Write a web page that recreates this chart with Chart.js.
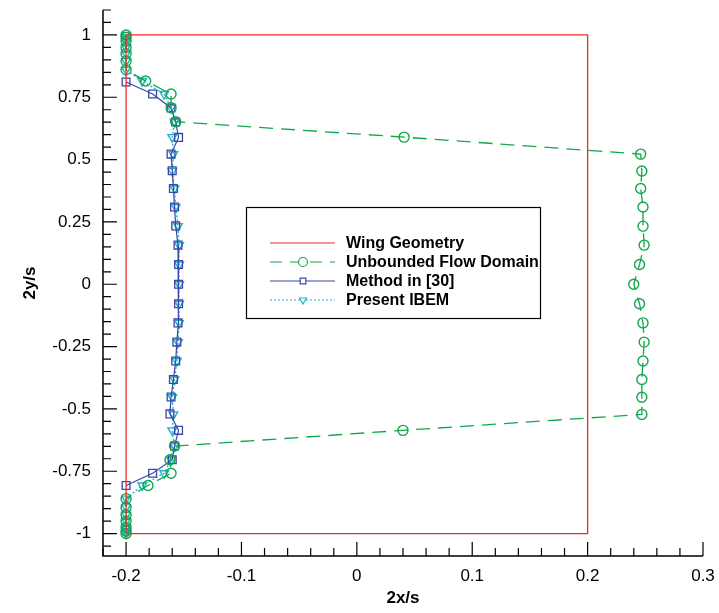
<!DOCTYPE html>
<html>
<head>
<meta charset="utf-8">
<script src="https://cdn.jsdelivr.net/npm/chart.js@4.4.1/dist/chart.umd.min.js"></script>
<style>
  html, body { margin: 0; padding: 0; background: #fff; }
  #wrap { width: 719px; height: 613px; }
</style>
</head>
<body>
<div id="wrap"><canvas id="c"></canvas></div>
<script>
// tick labels
const xTicks = [-0.2, -0.1, 0, 0.1, 0.2, 0.3];
const yTicks = [-1, -0.75, -0.5, -0.25, 0, 0.25, 0.5, 0.75, 1];

// wing outline
const wingX = [-0.2, -0.2, 0.2, 0.2, -0.2];
const wingY = [-1, 1, 1, -1, -1];

// span stations shared by the unbounded domain and the present IBEM
const stationY = [1, 0.99, 0.975, 0.95, 0.925, 0.895, 0.86, 0.815, 0.763, 0.708, 0.652, 0.59,
  0.522, 0.454, 0.384, 0.31, 0.233, 0.157, 0.079, 0, -0.078, -0.155, -0.232, -0.308, -0.382, -0.453, -0.522,
  -0.586, -0.649, -0.704, -0.758, -0.807, -0.86, -0.895, -0.925, -0.95, -0.975, -0.99, -1];

const unboundedX = [-0.2, -0.2, -0.2, -0.2, -0.2, -0.2, -0.2, -0.183, -0.161, -0.161, -0.157, 0.041,
  0.246, 0.247, 0.246, 0.248, 0.248, 0.249, 0.245, 0.240, 0.245, 0.248, 0.249, 0.248, 0.247, 0.247, 0.247,
  0.040, -0.158, -0.162, -0.161, -0.181, -0.2, -0.2, -0.2, -0.2, -0.2, -0.2, -0.2];

const ibemX = [-0.2, -0.2, -0.2, -0.2, -0.2, -0.2, -0.2, -0.186, -0.167, -0.161, -0.158, -0.160,
  -0.159, -0.160, -0.158, -0.157, -0.155, -0.154, -0.154, -0.154, -0.154, -0.154, -0.155, -0.156, -0.158, -0.160, -0.159,
  -0.160, -0.158, -0.161, -0.167, -0.186, -0.2, -0.2, -0.2, -0.2, -0.2, -0.2, -0.2];

// method in [30]
const refY = [0.811, 0.763, 0.707, 0.651, 0.589, 0.522, 0.455, 0.384, 0.31, 0.234, 0.157, 0.079, 0,
  -0.078, -0.155, -0.232, -0.308, -0.382, -0.452, -0.52, -0.586, -0.649, -0.704, -0.758, -0.807];
const refX = [-0.2, -0.177, -0.161, -0.157, -0.1545, -0.161, -0.160, -0.159, -0.158, -0.157, -0.155, -0.1545, -0.1545,
  -0.1545, -0.155, -0.156, -0.157, -0.159, -0.161, -0.162, -0.1545, -0.158, -0.160, -0.177, -0.2];

const RED = '#ee2b2b', GREEN = '#12a84a', BLUE = '#3a47a8', CYAN = '#1fb3c9';

function pts(xs, ys) {
  return xs.map((x, i) => ({ x: x, y: ys[i] }));
}

function noOverflow(s) {
  s.paddingLeft = 0; s.paddingRight = 0; s.paddingTop = 0; s.paddingBottom = 0;
}

// inward ticks + axis lines, tecplot style
const axesPlugin = {
  id: 'axesPlugin',
  afterDatasetsDraw(chart) {
    const ctx = chart.ctx, a = chart.chartArea;
    const xs = chart.scales.x, ys = chart.scales.y;
    ctx.save();
    ctx.strokeStyle = '#000';
    ctx.lineWidth = 1.5;
    ctx.beginPath();
    ctx.moveTo(a.left, a.top);
    ctx.lineTo(a.left, a.bottom);
    ctx.lineTo(a.right, a.bottom);
    ctx.stroke();
    ctx.lineWidth = 1.2;
    ctx.beginPath();
    for (let i = -22; i <= 30; i += 2) {
      const px = xs.getPixelForValue(i / 100);
      const len = (i % 10 === 0) ? 14 : 8;
      ctx.moveTo(px, a.bottom);
      ctx.lineTo(px, a.bottom - len);
    }
    for (let i = -21; i <= 22; i++) {
      const py = ys.getPixelForValue(i * 0.05);
      const len = (i % 5 === 0) ? 14 : 8;
      ctx.moveTo(a.left, py);
      ctx.lineTo(a.left + len, py);
    }
    ctx.stroke();
    ctx.restore();
  }
};

// boxed legend inside the plot
const legendItems = [
  { label: 'Wing Geometry', color: RED, dash: [], marker: null },
  { label: 'Unbounded Flow Domain', color: GREEN, dash: [12, 8], marker: 'circle' },
  { label: 'Method in [30]', color: BLUE, dash: [], marker: 'rect' },
  { label: 'Present IBEM', color: CYAN, dash: [2, 2], marker: 'triangle' }
];
const boxLegend = {
  id: 'boxLegend',
  afterDraw(chart) {
    const ctx = chart.ctx;
    ctx.save();
    ctx.fillStyle = '#fff';
    ctx.fillRect(246, 207, 294, 111);
    ctx.strokeStyle = '#000';
    ctx.lineWidth = 1.2;
    ctx.strokeRect(246.5, 207.5, 294, 111);
    ctx.font = 'bold 16px "Liberation Sans", Arial, sans-serif';
    ctx.textBaseline = 'middle';
    legendItems.forEach((it, i) => {
      const y = 243 + i * 19;
      ctx.strokeStyle = it.color;
      ctx.lineWidth = 1.2;
      ctx.setLineDash(it.dash);
      ctx.beginPath();
      ctx.moveTo(270, y);
      ctx.lineTo(335, y);
      ctx.stroke();
      ctx.setLineDash([]);
      if (it.marker) {
        ctx.fillStyle = '#fff';
        ctx.strokeStyle = it.color;
        Chart.helpers.drawPoint(ctx, {
          pointStyle: it.marker, radius: it.marker === 'circle' ? 4.5 : 4,
          rotation: it.marker === 'triangle' ? 180 : 0, borderWidth: 1.2
        }, 303, y);
      }
      ctx.fillStyle = '#000';
      ctx.fillText(it.label, 346, y + 1);
    });
    ctx.restore();
  }
};

new Chart(document.getElementById('c'), {
  type: 'line',
  data: {
    datasets: [
      {
        label: 'Wing Geometry',
        data: pts(wingX, wingY),
        borderColor: RED, borderWidth: 1.3,
        pointRadius: 0, fill: false, tension: 0
      },
      {
        label: 'Unbounded Flow Domain',
        data: pts(unboundedX, stationY),
        borderColor: GREEN, borderWidth: 1.3, borderDash: [14, 8],
        pointStyle: 'circle', pointRadius: 5, pointBorderWidth: 1.4,
        pointBorderColor: GREEN, pointBackgroundColor: 'rgba(0,0,0,0)',
        fill: false, tension: 0
      },
      {
        label: 'Method in [30]',
        data: pts(refX, refY),
        borderColor: BLUE, borderWidth: 1.2,
        pointStyle: 'rect', pointRadius: 5.5, pointBorderWidth: 1.3,
        pointBorderColor: BLUE, pointBackgroundColor: 'rgba(0,0,0,0)',
        fill: false, tension: 0
      },
      {
        label: 'Present IBEM',
        data: pts(ibemX, stationY),
        borderColor: CYAN, borderWidth: 1.3, borderDash: [2, 2],
        pointStyle: 'triangle', pointRotation: 180, pointRadius: 5, pointBorderWidth: 1.4,
        pointBorderColor: CYAN, pointBackgroundColor: 'rgba(0,0,0,0)',
        fill: false, tension: 0
      }
    ]
  },
  options: {
    responsive: true,
    maintainAspectRatio: false,
    animation: false,
    devicePixelRatio: 1,
    layout: { padding: { left: 0, right: 16, top: 10, bottom: 0 } },
    plugins: { legend: { display: false }, tooltip: { enabled: false } },
    scales: {
      x: {
        type: 'linear',
        min: -0.22, max: 0.3,
        afterBuildTicks: s => { s.ticks = xTicks.map(v => ({ value: v })); },
        afterFit: s => { s.height = 57; noOverflow(s); },
        grid: { display: false, drawTicks: false },
        border: { display: false },
        ticks: {
          padding: 10, color: '#000', maxRotation: 0, autoSkip: false,
          font: { family: '"Liberation Sans", Arial, sans-serif', size: 17 },
          callback: v => String(v)
        },
        title: {
          display: true, text: '2x/s', color: '#000',
          font: { family: '"Liberation Sans", Arial, sans-serif', size: 17, weight: 'bold' },
          padding: { top: 0, bottom: 4 }
        }
      },
      y: {
        type: 'linear',
        min: -1.09, max: 1.1,
        afterBuildTicks: s => { s.ticks = yTicks.map(v => ({ value: v })); },
        afterFit: s => { s.width = 103; noOverflow(s); },
        grid: { display: false, drawTicks: false },
        border: { display: false },
        ticks: {
          padding: 12, color: '#000', autoSkip: false,
          font: { family: '"Liberation Sans", Arial, sans-serif', size: 17 },
          callback: v => String(v)
        },
        title: {
          display: true, text: '2y/s', color: '#000',
          font: { family: '"Liberation Sans", Arial, sans-serif', size: 17, weight: 'bold' },
          padding: { top: 20, bottom: 0 }
        }
      }
    }
  },
  plugins: [axesPlugin, boxLegend]
});
</script>
</body>
</html>
